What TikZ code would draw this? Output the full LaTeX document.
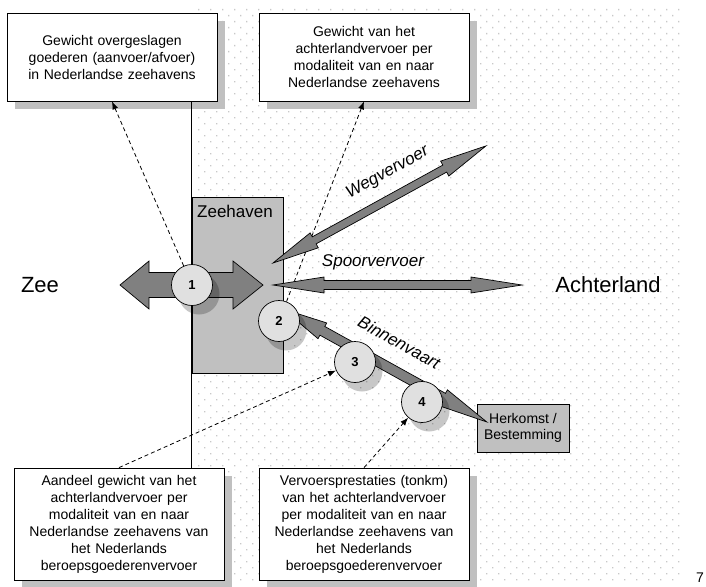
\documentclass[tikz,border=0pt]{standalone}
\usepackage{fontspec}
\setmainfont{Liberation Sans}
\usetikzlibrary{arrows.meta,shadows}
\definecolor{arrowgray}{HTML}{808080}
\definecolor{boxgray}{HTML}{C0C0C0}
\definecolor{circlegray}{HTML}{E0E0E0}
\definecolor{dotgray}{HTML}{C8C8C8}
\pgfdeclarelayer{back}
\pgfdeclarelayer{front}
\pgfsetlayers{back,main,front}
% fat double arrow along x: length, shaft half width, head half width, left head, right head
\newcommand\fatarrow[5]{%
  \filldraw[fat] (0,0) -- (#4,-#3) -- (#4,-#2) -- ({#1-#5},-#2) -- ({#1-#5},-#3) -- (#1,0)
    -- ({#1-#5},#3) -- ({#1-#5},#2) -- (#4,#2) -- (#4,#3) -- cycle;}

\begin{document}
\begin{tikzpicture}[x=1pt, y=-1pt, every node/.style={font=\fontsize{14}{17}\selectfont},
  >={Latex[length=8pt,width=6pt]},
  fat/.style={fill=arrowgray, draw=black, line width=0.7pt},
  infobox/.style={draw=black, line width=0.8pt, fill=white, text width=200pt, minimum width=210pt,
    align=center, inner sep=0pt, drop shadow={shadow xshift=8pt, shadow yshift=-8pt, fill=boxgray, opacity=1}},
  num/.style={circle, draw=black, line width=0.7pt, fill=circlegray, minimum size=41pt, inner sep=0pt,
    font=\fontsize{13}{15}\selectfont\bfseries, drop shadow={shadow xshift=7pt, shadow yshift=-9pt, fill=black, opacity=0.22}},
  mode/.style={font=\fontsize{17}{20}\selectfont\itshape},
  link/.style={->, dash pattern=on 4pt off 3pt, line width=0.8pt}]
	\useasboundingbox (0,0) rectangle (706,586);
	\begin{pgfonlayer}{back}
		\foreach \i in {0,...,40} \foreach \j in {0,...,47}
			\fill[dotgray] (198+12*\i,9+12*\j) rectangle ++(1.3,1.3) (204+12*\i,15+12*\j) rectangle ++(1.3,1.3);
		\fill[white] (680,0) rectangle (706,586);
	\end{pgfonlayer}
	\node[infobox, minimum height=88pt] (overslag) at (112,57) {Gewicht overgeslagen\\goederen (aanvoer/afvoer)\\in Nederlandse zeehavens};
	\node[infobox, minimum height=88pt] (gewicht) at (364,57) {Gewicht van het\\achterlandvervoer per\\modaliteit van en naar\\Nederlandse zeehavens};
	\node[draw, fill=boxgray, line width=0.7pt, minimum width=91pt, minimum height=176pt, inner sep=0pt] (zeehaven) at (237.5,285) {};
	\node[anchor=north west, inner sep=0pt, font=\fontsize{17}{20}\selectfont] (zhtitle) at (197,205) {Zeehaven};
	\coordinate (bottom) at (0,586);
	\draw[line width=0.7pt] (overslag.south -| zeehaven.west) -- (bottom -| zeehaven.west);
	\node[infobox, minimum height=112pt] (aandeel) at (119,524) {Aandeel gewicht van het\\achterlandvervoer per\\modaliteit van en naar\\Nederlandse zeehavens van\\het Nederlands\\beroepsgoederenvervoer};
	\node[infobox, minimum height=112pt] (prestaties) at (364,524) {Vervoersprestaties (tonkm)\\van het achterlandvervoer\\per modaliteit van en naar\\Nederlandse zeehavens van\\het Nederlands\\beroepsgoederenvervoer};
	\node[draw, fill=boxgray, line width=0.7pt, minimum width=92pt, minimum height=48pt, inner sep=0pt, align=center,
	  font=\fontsize{14}{16}\selectfont] (herkomst) at (523,428) {Herkomst /\\Bestemming};
	\begin{pgfonlayer}{front}
		\begin{scope}[shift={(120,285)}]
			\fatarrow{143}{12.5}{24}{29}{30}
		\end{scope}
		\begin{scope}[shift={(273,263)}, rotate=28.8]
			\fatarrow{243}{4}{8.5}{47}{47}
			\node[mode, rotate=28.8] (weg) at (144,-24) {Wegvervoer};
		\end{scope}
		\begin{scope}[shift={(273,285)}]
			\fatarrow{249}{4.5}{8}{51}{51}
			\node[mode] (spoor) at (100,-23) {Spoorvervoer};
		\end{scope}
		\begin{scope}[shift={(283,309)}, rotate=-29]
			\fatarrow{233}{5}{9}{45}{50}
			\node[mode, rotate=-29] (binnen) at (118,-27) {Binnenvaart};
		\end{scope}
		\node[num] (n1) at (192,285) {1};
		\node[num] (n2) at (279,321) {2};
		\node[num] (n3) at (355,362) {3};
		\node[num] (n4) at (422,402) {4};
	\end{pgfonlayer}
	\node[font=\fontsize{22}{26}\selectfont] (zee) at (40,285) {Zee};
	\node[font=\fontsize{22}{26}\selectfont] (achterland) at (608,285) {Achterland};
	\node (pagenr) at (700,578) {7};
	\draw[link] (n1) -- (overslag.south);
	\draw[link] (n2) -- (gewicht.south);
	\draw[link] (aandeel.north) -- (n3);
	\draw[link] (prestaties.north) -- (n4);
\end{tikzpicture}
\end{document}
